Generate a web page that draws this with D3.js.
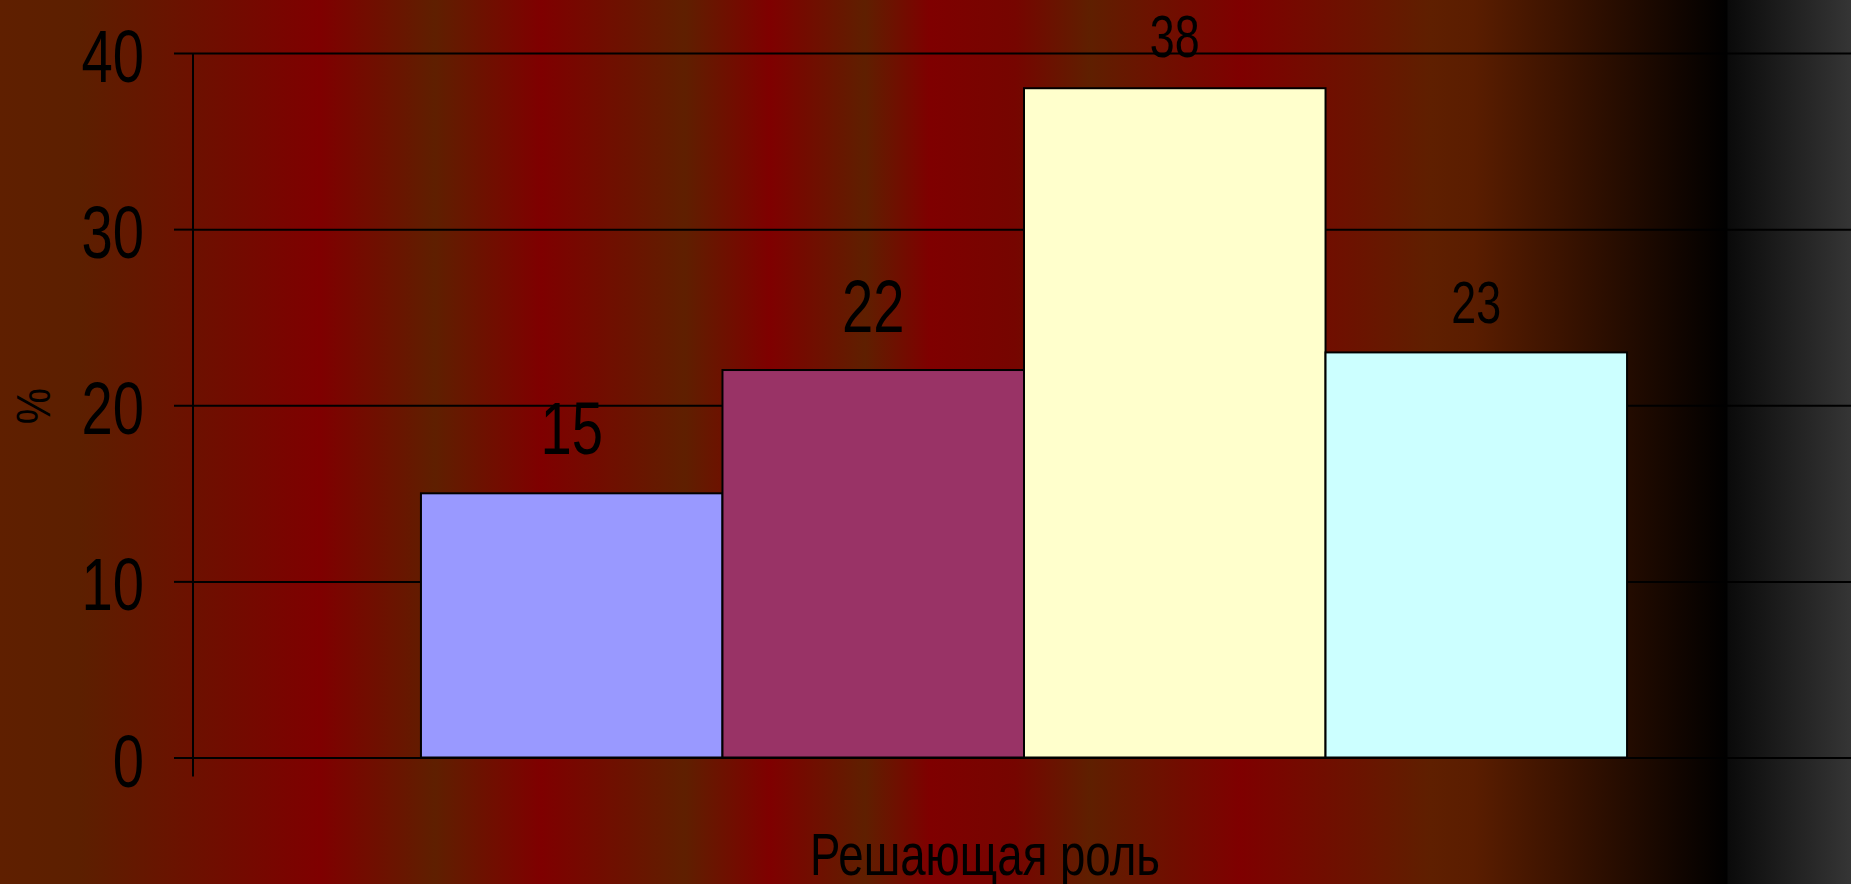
<!DOCTYPE html>
<html>
<head>
<meta charset="utf-8">
<script src="https://cdn.jsdelivr.net/npm/d3@7"></script>
<style>
  html, body { margin: 0; padding: 0; background: #000; }
  svg { display: block; }
  text { font-family: "Liberation Sans", Arial, sans-serif; fill: #000; }
</style>
</head>
<body>
<svg id="chart" width="1851" height="884"></svg>
<script>
// data
var categories = ['Решающая роль']
var series = ['Ряд 1', 'Ряд 2', 'Ряд 3', 'Ряд 4']
var values = [15, 22, 38, 23]
var yTicks = [0, 10, 20, 30, 40]
var yTitle = '%'

// styles
var barColors = ['#9999ff', '#993366', '#ffffcc', '#ccffff']
var labelSizes = [74, 74, 59, 59]
var labelGaps = [39, 38, 31, 29]
var squeeze = 0.76

// background stripes (position in px, colour)
var brown = '#5f1f00', red = '#7f0000'
var stripes = [
    [0, brown], [80, '#5c1f00'], [320, red], [435, brown], [541, red],
    [685, brown], [770, red], [865, brown], [930, red], [1015, '#760500'],
    [1090, brown], [1240, red], [1430, brown], [1474, '#5a1d00'],
    [1727, '#000000'], [1728, '#0a0a0a'], [1851, '#353535']
]

var W = 1851, H = 884
var plotLeft = 193, plotRight = 1855, plotTop = 53, plotBottom = 757.5

var svg = d3.select('#chart')

var grad = svg.append('defs').append('linearGradient')
    .attr('id', 'bg')
    .attr('gradientUnits', 'userSpaceOnUse')
    .attr('x1', 0).attr('x2', W).attr('y1', 0).attr('y2', 0)
grad.selectAll('stop')
    .data(stripes)
    .enter()
    .append('stop')
    .attr('offset', function(d){ return d[0] / W })
    .attr('stop-color', function(d){ return d[1] })

svg.append('rect')
    .attr('width', W).attr('height', H)
    .style('fill', 'url(#bg)')

var y = d3.scaleLinear().domain([0, 40]).range([plotBottom, plotTop])
var x0 = d3.scaleBand().domain(categories).range([plotLeft, plotRight])
    .paddingInner(0).paddingOuter(0.189)
var x1 = d3.scaleBand().domain(series).range([0, x0.bandwidth()])

// gridlines
var grid = svg.append('g')
    .attr('transform', 'translate(' + plotLeft + ',0)')
    .call(d3.axisLeft(y).tickValues(yTicks).tickSize(-(W - plotLeft)).tickFormat(''))
grid.select('.domain').remove()
grid.selectAll('line').style('stroke', '#000').style('stroke-width', 2)

// axis with ticks and labels
var yAxis = svg.append('g')
    .attr('transform', 'translate(' + plotLeft + ',0)')
    .call(d3.axisLeft(y).tickValues(yTicks).tickSize(19).tickSizeOuter(0))
yAxis.select('.domain').remove()
yAxis.selectAll('line').style('stroke', '#000').style('stroke-width', 2)
yAxis.selectAll('text')
    .attr('x', -49 / squeeze)
    .attr('dy', null)
    .attr('y', 28.5)
    .attr('transform', 'scale(' + squeeze + ',1)')
    .style('font-size', '74px')
    .style('font-family', '"Liberation Sans", Arial, sans-serif')
    .style('fill', '#000')

// bars
var group = svg.append('g')
    .attr('transform', 'translate(' + x0(categories[0]) + ',0)')

group.selectAll('rect')
    .data(values)
    .enter()
    .append('rect')
    .attr('x', function(d,i){ return x1(series[i]) })
    .attr('y', function(d){ return y(d) })
    .attr('width', x1.bandwidth())
    .attr('height', function(d){ return y(0) - y(d) })
    .style('fill', function(d,i){ return barColors[i] })
    .style('stroke', '#000')
    .style('stroke-width', 2)

// data labels
group.selectAll('g.lbl')
    .data(values)
    .enter()
    .append('g')
    .attr('class', 'lbl')
    .attr('transform', function(d,i){
        return 'translate(' + (x1(series[i]) + x1.bandwidth() / 2) + ',' + (y(d) - labelGaps[i]) + ') scale(' + squeeze + ',1)'
    })
    .append('text')
    .attr('text-anchor', 'middle')
    .style('font-size', function(d,i){ return labelSizes[i] + 'px' })
    .text(function(d){ return d })

// vertical axis line, runs a bit below zero
svg.append('line')
    .attr('x1', plotLeft).attr('x2', plotLeft)
    .attr('y1', y(40)).attr('y2', y(0) + 19)
    .style('stroke', '#000').style('stroke-width', 2)

// axis titles
svg.append('g')
    .attr('transform', 'translate(985,875) scale(' + squeeze + ',1)')
    .append('text')
    .attr('text-anchor', 'middle')
    .style('font-size', '60px')
    .text(categories[0])

svg.append('g')
    .attr('transform', 'translate(50,406) rotate(-90) scale(0.85,1)')
    .append('text')
    .attr('text-anchor', 'middle')
    .style('font-size', '48px')
    .text(yTitle)
</script>
</body>
</html>
